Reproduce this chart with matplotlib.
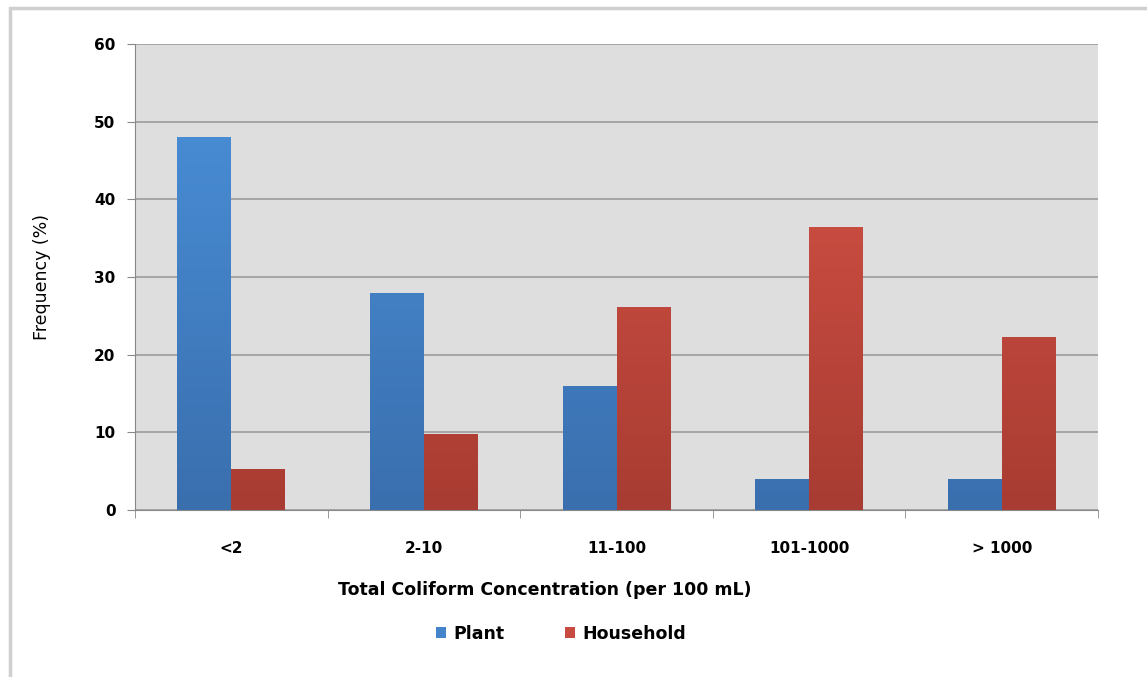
# Total coliform frequency, plant vs household

import numpy as np
import matplotlib.pyplot as plt
from matplotlib.patches import Rectangle
from matplotlib.colors import LinearSegmentedColormap

categories = ['<2', '2-10', '11-100', '101-1000', '> 1000']
plant = [48, 28, 16, 4, 4]
household = [5.3, 9.8, 26.2, 36.5, 22.3]

plt.rcParams['font.family'] = ['DejaVu Sans']

fig = plt.figure(figsize=(11.47, 6.77), dpi=100)
ax = fig.add_axes([135 / 1147, 1 - 510 / 677, (1098 - 135) / 1147, (510 - 44) / 677])
ax.set_facecolor('#dedede')

x = np.arange(len(categories))
w = 0.28

# bars (gradient filled, lighter at top)
blue_cmap = LinearSegmentedColormap.from_list('b', ['#3a6fae', '#4b92dc'])
red_cmap = LinearSegmentedColormap.from_list('r', ['#a83c32', '#dc5549'])

def grad_bars(xpos, vals, cmap, label):
    bars = ax.bar(xpos, vals, w, color=cmap(0.6), label=label, zorder=3)
    for b in bars:
        x0, y0 = b.get_x(), b.get_y()
        bw, bh = b.get_width(), b.get_height()
        grad = np.linspace(0, 1, 100).reshape(-1, 1)
        im = ax.imshow(grad, cmap=cmap, origin='lower', aspect='auto',
                       extent=[x0, x0 + bw, 0, 60], zorder=3.5)
        im.set_clip_path(Rectangle((x0, y0), bw, bh, transform=ax.transData))
    return bars

grad_bars(x - w / 2, plant, blue_cmap, 'Plant')
grad_bars(x + w / 2, household, red_cmap, 'Household')

ax.set_xlim(-0.5, len(categories) - 0.5)
ax.set_ylim(0, 60)
ax.set_yticks(range(0, 61, 10))
ax.tick_params(axis='y', labelsize=11, length=6, color='#888888', pad=8)
ax.set_xticks(x)
ax.set_xticklabels(categories, fontsize=11, fontweight='bold')
ax.tick_params(axis='x', length=0, pad=22)
for lab in ax.get_yticklabels():
    lab.set_fontweight('bold')

# ticks between categories
ax.set_xticks(np.arange(-0.5, len(categories)), minor=True)
ax.tick_params(axis='x', which='minor', length=6, color='#888888')

# subtle grid lines
ax.grid(axis='y', color='#a0a0a0', linewidth=1.3, zorder=1)
ax.set_axisbelow(True)
for s in ['top', 'right']:
    ax.spines[s].set_visible(False)
ax.spines['left'].set_color('#888888')
ax.spines['bottom'].set_color('#888888')

fig.text(42 / 1147, 1 - 277 / 677, 'Frequency (%)', rotation=90, ha='center', va='center',
         fontsize=12.5)
fig.text(545 / 1147, 1 - 590 / 677, 'Total Coliform Concentration (per 100 mL)',
         ha='center', va='center', fontsize=12.5, fontweight='bold')

handles, labels = ax.get_legend_handles_labels()
fig.legend(handles, labels, loc='center', bbox_to_anchor=(561 / 1147, 1 - 634 / 677), ncol=2,
           frameon=False, handlelength=0.6, handleheight=0.6,
           columnspacing=3.5, handletextpad=0.4, prop={'weight': 'bold', 'size': 12.5})

# outer frame
fig.patches.append(Rectangle((10 / 1147, -0.1), 1.2, 1 - 8 / 677 + 0.1, transform=fig.transFigure,
                             fill=False, edgecolor='#cfcfcf', linewidth=2.5))

plt.savefig('out.png', dpi=100)
